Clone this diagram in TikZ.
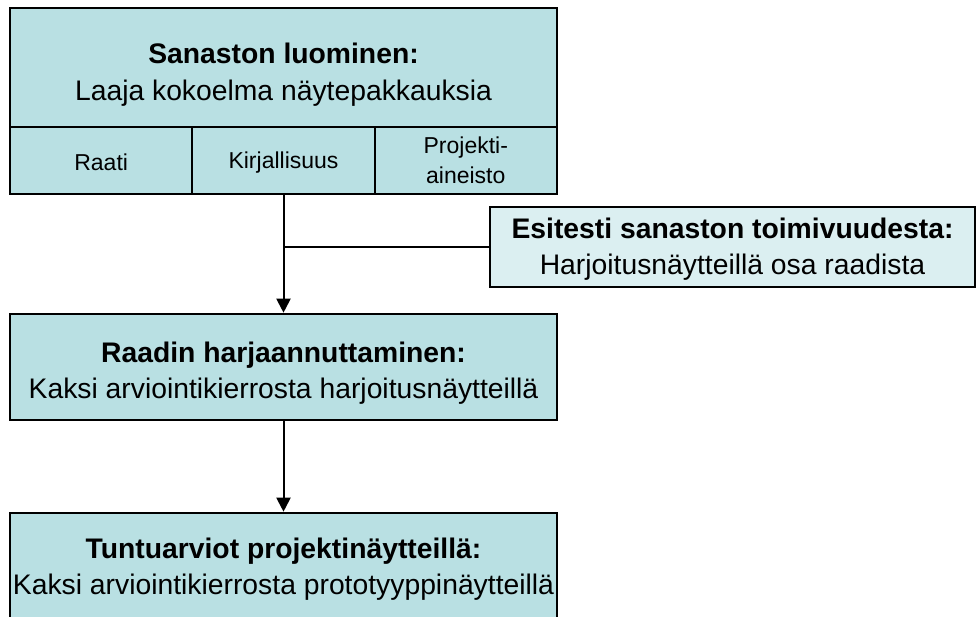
\documentclass[tikz,border=0pt]{standalone}
\usepackage{fontspec}
\setmainfont{Liberation Sans}
\usetikzlibrary{arrows.meta}

\definecolor{stagefill}{RGB}{185,224,227}
\definecolor{testfill}{RGB}{219,239,241}

\tikzset{
  stage/.style={draw, line width=2.6pt, fill=stagefill, minimum width=547pt,
    minimum height=106pt, inner sep=0pt, align=center,
    font=\fontsize{28.3}{36.5}\selectfont},
  source/.style={draw, line width=2pt, fill=stagefill, minimum width=182.3pt,
    minimum height=67pt, inner sep=0pt, align=center,
    font=\fontsize{23}{30}\selectfont},
  flow/.style={line width=2pt, -{Triangle[width=14pt,length=14pt]}}
}

\begin{document}
\begin{tikzpicture}[x=1pt, y=-1pt]
  \useasboundingbox (0,0) rectangle (979,617);
  \clip (0,0) rectangle (979,617);

  % vocabulary
  \node[stage, minimum height=119pt] (vocab) at (283.5,67.5)
    {\rule{0pt}{35pt}\textbf{Sanaston luominen:}\\Laaja kokoelma näytepakkauksia};
  \node[source] (panel) at (101.2,160.5) {\rule{0pt}{21pt}Raati};
  \node[source] (lit) at (283.5,160.5) {\rule{0pt}{21pt}Kirjallisuus};
  \node[source] (proj) at (465.8,160.5) {Projekti-\\aineisto};

  % pretest
  \node[stage, fill=testfill, line width=2pt, minimum width=485pt,
    minimum height=80pt] (pretest) at (732.5,247)
    {\rule{0pt}{25pt}\textbf{Esitesti sanaston toimivuudesta:}\\Harjoitusnäytteillä osa raadista};

  % training
  \node[stage] (train) at (283.5,367)
    {\rule{0pt}{33pt}\textbf{Raadin harjaannuttaminen:}\\Kaksi arviointikierrosta harjoitusnäytteillä};

  % ratings
  \node[stage] (rate) at (283.5,566)
    {\rule{0pt}{27pt}\textbf{Tuntuarviot projektinäytteillä:}\\Kaksi arviointikierrosta prototyyppinäytteillä};

  % arrows
  \draw[flow] (lit.south) -- (train.north);
  \draw[line width=2pt] (pretest.west) -- (pretest.west -| lit.south);
  \draw[flow] (train.south) -- (rate.north);
\end{tikzpicture}
\end{document}
